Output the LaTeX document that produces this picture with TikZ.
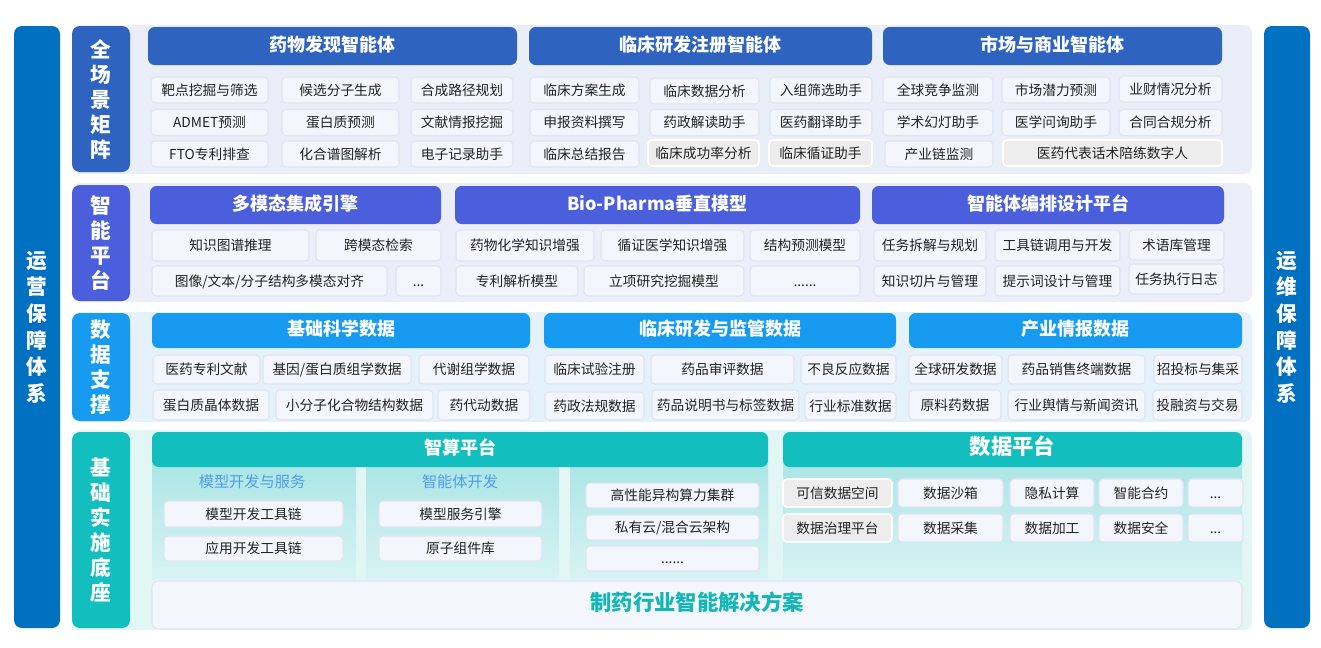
\documentclass[tikz,border=0pt]{standalone}
\usepackage{fontspec}
\setmainfont{Noto Sans CJK SC}

\definecolor{outerblue}{HTML}{0070C0}
\definecolor{sceneblue}{HTML}{2E64BF}
\definecolor{scenepanel}{HTML}{EAEEF8}
\definecolor{platblue}{HTML}{4B5FDD}
\definecolor{platpanel}{HTML}{ECEEFA}
\definecolor{datablue}{HTML}{169BF0}
\definecolor{datapanel}{HTML}{E6F2FB}
\definecolor{baseteal}{HTML}{12BEBE}
\definecolor{basepanel}{HTML}{E3F6F6}
\definecolor{shadetop}{HTML}{ACE5E5}
\definecolor{shadebot}{HTML}{D8F3F3}
\definecolor{cellfill}{HTML}{F3F6FC}
\definecolor{cellline}{HTML}{DFE5F3}
\definecolor{cellgrey}{HTML}{EDEDED}
\definecolor{celltext}{HTML}{222222}
\definecolor{subblue}{HTML}{4C9EF0}
\definecolor{solteal}{HTML}{14B6B6}

\tikzset{
  dims/.style 2 args={minimum width=#1*0.75pt, minimum height=#2*0.75pt},
  cellbox/.style={draw=cellline, line width=0.8pt, fill=cellfill, rounded corners=3pt,
    inner sep=0pt, text=celltext, text height=0.88em, text depth=0.12em,
    font=\fontsize{10.3}{12}\selectfont},
  greycell/.style={cellbox, draw=white, line width=1.2pt, fill=cellgrey},
  headbar/.style={rounded corners=5pt, inner sep=0pt, text=white, text height=0.88em, text depth=0.12em,
    font=\fontsize{13.5}{16}\selectfont\bfseries},
  rowlabel/.style={rounded corners=6pt, inner sep=0pt, text=white, align=center, text depth=0.12em,
    font=\fontsize{15.5}{18.75}\selectfont\bfseries},
  outerbar/.style={fill=outerblue, rounded corners=6pt, inner sep=0pt, text=white, align=center,
    text depth=0.12em, font=\fontsize{15.5}{20}\selectfont\bfseries},
  subtitle/.style={text=subblue, inner sep=0pt, text height=0.88em, text depth=0.12em,
    font=\fontsize{11.4}{13}\selectfont},
}

\begin{document}
\begin{tikzpicture}[x=0.75pt,y=-0.75pt]
\useasboundingbox (0,0) rectangle (1321,647);
\fill[white] (0,0) rectangle (1321,647);

% side bars
\node[outerbar, dims={46}{602}] (opsL) at (37,327) {运\\营\\保\\障\\体\\系};
\node[outerbar, dims={46}{602}] (opsR) at (1287,327) {运\\维\\保\\障\\体\\系};

% panels
\fill[scenepanel, rounded corners=6pt] (72,25) rectangle (1252,174);
\fill[platpanel, rounded corners=6pt] (72,183) rectangle (1252,302);
\fill[datapanel, rounded corners=6pt] (72,312) rectangle (1252,422);
\fill[basepanel, rounded corners=6pt] (72,430) rectangle (1252,630);

% row 1: scenes
\node[rowlabel, fill=sceneblue, dims={58}{146}] (sceneLab) at (101,99) {全\\场\\景\\矩\\阵};
\node[headbar, fill=sceneblue, dims={369}{38}] (hdDrug) at (332.5,46) {药物发现智能体};
\node[headbar, fill=sceneblue, dims={343}{38}] (hdClin) at (700.5,46) {临床研发注册智能体};
\node[headbar, fill=sceneblue, dims={339}{38}] (hdMkt) at (1052.5,46) {市场与商业智能体};

\node[cellbox, dims={117}{26}] (dr11) at (209.5,90) {靶点挖掘与筛选};
\node[cellbox, dims={117}{26}] (dr12) at (340.5,90) {候选分子生成};
\node[cellbox, dims={102}{26}] (dr13) at (462,90) {合成路径规划};
\node[cellbox, dims={117}{26}] (dr21) at (209.5,122.5) {ADMET预测};
\node[cellbox, dims={117}{26}] (dr22) at (340.5,122.5) {蛋白质预测};
\node[cellbox, dims={102}{26}] (dr23) at (462,122.5) {文献情报挖掘};
\node[cellbox, dims={117}{26}] (dr31) at (209.5,154) {FTO专利排查};
\node[cellbox, dims={117}{26}] (dr32) at (340.5,154) {化合谱图解析};
\node[cellbox, dims={102}{26}] (dr33) at (462,154) {电子记录助手};

\node[cellbox, dims={109}{26}] (cl11) at (584.5,90) {临床方案生成};
\node[cellbox, dims={109}{26}] (cl12) at (704.5,91) {临床数据分析};
\node[cellbox, dims={102}{26}] (cl13) at (821,90) {入组筛选助手};
\node[cellbox, dims={109}{26}] (cl21) at (584.5,122.5) {申报资料撰写};
\node[cellbox, dims={109}{26}] (cl22) at (704.5,122.5) {药政解读助手};
\node[cellbox, dims={102}{26}] (cl23) at (821,122.5) {医药翻译助手};
\node[cellbox, dims={109}{26}] (cl31) at (584.5,154) {临床总结报告};
\node[greycell, dims={111}{26}] (cl32) at (703.5,153) {临床成功率分析};
\node[greycell, dims={103}{26}] (cl33) at (820.5,153) {临床循证助手};

\node[cellbox, dims={110}{26}] (mk11) at (938,90) {全球竞争监测};
\node[cellbox, dims={108}{26}] (mk12) at (1056,90) {市场潜力预测};
\node[cellbox, dims={103}{26}] (mk13) at (1170.5,89) {业财情况分析};
\node[cellbox, dims={110}{26}] (mk21) at (938,122.5) {学术幻灯助手};
\node[cellbox, dims={108}{26}] (mk22) at (1056,122.5) {医学问询助手};
\node[cellbox, dims={103}{26}] (mk23) at (1170.5,122.5) {合同合规分析};
\node[cellbox, dims={108}{26}] (mk31) at (939,154) {产业链监测};
\node[greycell, dims={219}{26}] (mk32) at (1112.5,153) {医药代表话术陪练数字人};

% row 2: platform
\node[rowlabel, fill=platblue, dims={58}{116}] (platLab) at (101,243) {智\\能\\平\\台};
\node[headbar, fill=platblue, dims={291}{38}] (hdMulti) at (295.5,205) {多模态集成引擎};
\node[headbar, fill=platblue, dims={405}{38}] (hdBio) at (657.5,205) {Bio-Pharma垂直模型};
\node[headbar, fill=platblue, dims={352}{38}] (hdAgent) at (1048,205) {智能体编排设计平台};

\node[cellbox, dims={157}{31}] (mm11) at (230.5,245.5) {知识图谱推理};
\node[cellbox, dims={125}{31}] (mm12) at (378.5,245.5) {跨模态检索};
\node[cellbox, dims={235}{30}] (mm21) at (269.5,281) {图像/文本/分子结构多模态对齐};
\node[cellbox, dims={45}{30}] (mm22) at (418.5,281) {...};

\node[cellbox, dims={138}{31}] (bp11) at (525,245.5) {药物化学知识增强};
\node[cellbox, dims={143}{31}] (bp12) at (672.5,245.5) {循证医学知识增强};
\node[cellbox, dims={110}{31}] (bp13) at (805,245.5) {结构预测模型};
\node[cellbox, dims={122}{30}] (bp21) at (517,281) {专利解析模型};
\node[cellbox, dims={160}{30}] (bp22) at (664,281) {立项研究挖掘模型};
\node[cellbox, dims={110}{30}] (bp23) at (805,281) {......};

\node[cellbox, dims={112}{31}] (ag11) at (930,245.5) {任务拆解与规划};
\node[cellbox, dims={125}{31}] (ag12) at (1057.5,245.5) {工具链调用与开发};
\node[cellbox, dims={95}{30}] (ag13) at (1176.5,245) {术语库管理};
\node[cellbox, dims={112}{30}] (ag21) at (930,281) {知识切片与管理};
\node[cellbox, dims={125}{30}] (ag22) at (1057.5,281) {提示词设计与管理};
\node[cellbox, dims={95}{30}] (ag23) at (1176.5,279) {任务执行日志};

% row 3: data
\node[rowlabel, fill=datablue, dims={58}{108}] (dataLab) at (101,367) {数\\据\\支\\撑};
\node[headbar, fill=datablue, dims={378}{35}] (hdSci) at (341,330.5) {基础科学数据};
\node[headbar, fill=datablue, dims={352}{35}] (hdReg) at (720,330.5) {临床研发与监管数据};
\node[headbar, fill=datablue, dims={333}{35}] (hdInd) at (1075.5,330.5) {产业情报数据};

\node[cellbox, dims={107}{29}] (sc11) at (206.5,369.5) {医药专利文献};
\node[cellbox, dims={148}{29}] (sc12) at (337,369.5) {基因/蛋白质组学数据};
\node[cellbox, dims={110}{29}] (sc13) at (474,369.5) {代谢组学数据};
\node[cellbox, dims={116}{30}] (sc21) at (211,405) {蛋白质晶体数据};
\node[cellbox, dims={157}{30}] (sc22) at (354.5,405) {小分子化合物结构数据};
\node[cellbox, dims={92}{30}] (sc23) at (484,405) {药代动数据};

\node[cellbox, dims={99}{29}] (rg11) at (594.5,369.5) {临床试验注册};
\node[cellbox, dims={143}{29}] (rg12) at (722.5,369.5) {药品审评数据};
\node[cellbox, dims={95}{29}] (rg13) at (848.5,369.5) {不良反应数据};
\node[cellbox, dims={99}{28}] (rg21) at (594.5,406) {药政法规数据};
\node[cellbox, dims={147}{30}] (rg22) at (725.5,405) {药品说明书与标签数据};
\node[cellbox, dims={91}{28}] (rg23) at (850.5,406) {行业标准数据};

\node[cellbox, dims={93}{29}] (in11) at (955.5,369.5) {全球研发数据};
\node[cellbox, dims={137}{29}] (in12) at (1076.5,369.5) {药品销售终端数据};
\node[cellbox, dims={88}{29}] (in13) at (1198,369.5) {招投标与集采};
\node[cellbox, dims={92}{30}] (in21) at (955,405) {原料药数据};
\node[cellbox, dims={137}{30}] (in22) at (1076.5,405) {行业舆情与新闻资讯};
\node[cellbox, dims={89}{30}] (in23) at (1197.5,405) {投融资与交易};

% row 4: infrastructure
\node[rowlabel, fill=baseteal, dims={58}{196}] (baseLab) at (101,530) {基\\础\\实\\施\\底\\座};
\shade[top color=shadetop, bottom color=shadebot] (152,462) rectangle (356,579);
\shade[top color=shadetop, bottom color=shadebot] (366,462) rectangle (559,579);
\shade[top color=shadetop, bottom color=shadebot] (570,462) rectangle (768,579);
\shade[top color=shadetop, bottom color=shadebot] (783,462) rectangle (1242,579);
\node[headbar, fill=baseteal, dims={616}{35}] (hdComp) at (460,449.5) {智算平台};
\node[headbar, fill=baseteal, font=\fontsize{16}{19}\selectfont\bfseries, dims={459}{35}] (hdData) at (1012.5,449.5) {数据平台};

\node[subtitle] (devSub) at (252,482) {模型开发与服务};
\node[subtitle] (agtSub) at (460,482) {智能体开发};
\node[cellbox, dims={179}{26}] (dv1) at (253.5,514) {模型开发工具链};
\node[cellbox, dims={179}{25}] (dv2) at (253.5,548.5) {应用开发工具链};
\node[cellbox, dims={163}{26}] (at1) at (460.5,514) {模型服务引擎};
\node[cellbox, dims={163}{25}] (at2) at (460.5,548.5) {原子组件库};
\node[cellbox, dims={173}{25}] (cp1) at (672.5,495.5) {高性能异构算力集群};
\node[cellbox, dims={173}{25}] (cp2) at (672.5,527.5) {私有云/混合云架构};
\node[cellbox, dims={173}{25}] (cp3) at (672.5,558.5) {......};

\node[greycell, dims={109}{28}] (dp11) at (837.5,493) {可信数据空间};
\node[cellbox, dims={105}{28}] (dp12) at (950.5,493) {数据沙箱};
\node[cellbox, dims={84}{28}] (dp13) at (1052,493) {隐私计算};
\node[cellbox, dims={84}{28}] (dp14) at (1141,493) {智能合约};
\node[cellbox, dims={55}{28}] (dp15) at (1215.5,493) {...};
\node[greycell, dims={109}{28}] (dp21) at (837.5,528) {数据治理平台};
\node[cellbox, dims={105}{28}] (dp22) at (950.5,528) {数据采集};
\node[cellbox, dims={84}{28}] (dp23) at (1052,528) {数据加工};
\node[cellbox, dims={84}{28}] (dp24) at (1141,528) {数据安全};
\node[cellbox, dims={55}{28}] (dp25) at (1215.5,528) {...};

\node[cellbox, rounded corners=5pt, text=solteal, font=\fontsize{16}{19}\selectfont\bfseries,
  dims={1090}{48}] (solution) at (697,605) {制药行业智能解决方案};
\end{tikzpicture}
\end{document}
